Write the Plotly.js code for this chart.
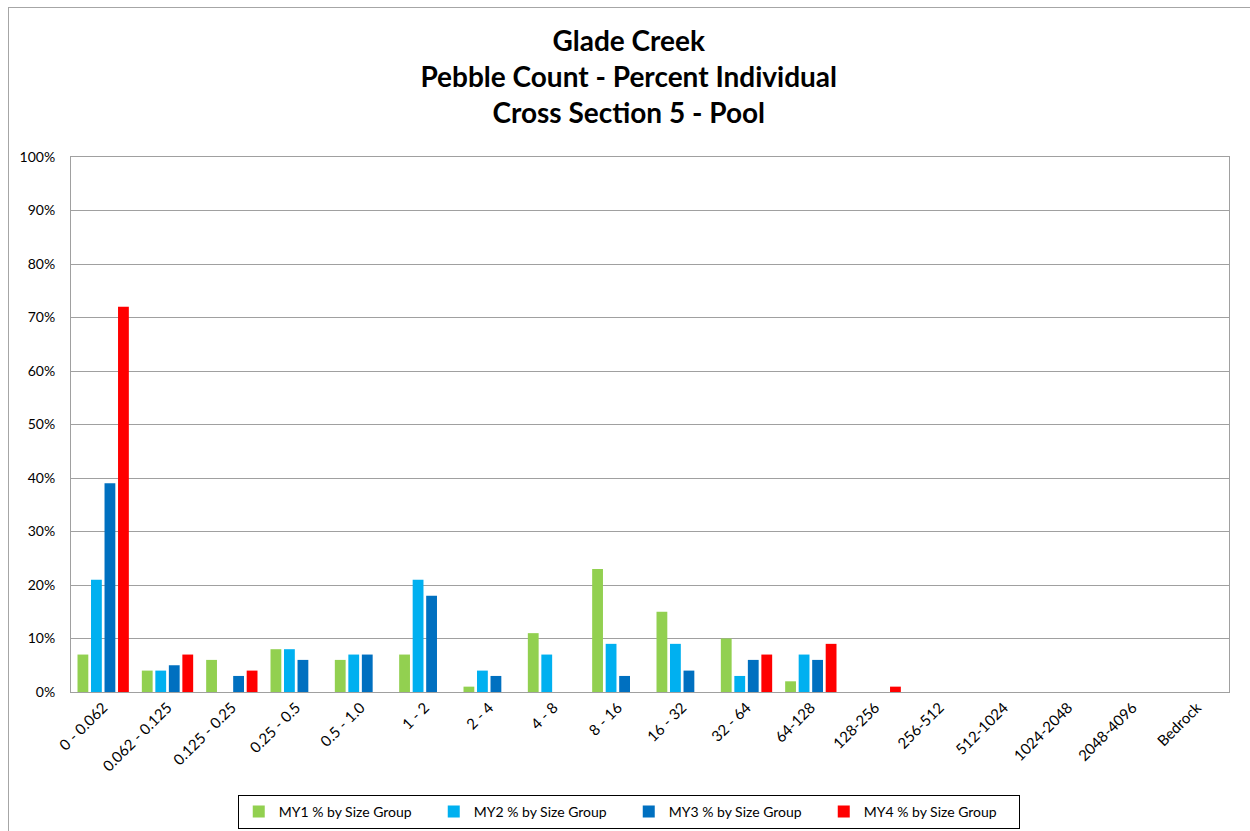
<!DOCTYPE html>
<html><head><meta charset="utf-8">
<script src="https://cdn.plot.ly/plotly-3.0.1.min.js"></script>
<style>html,body{margin:0;padding:0;background:#fff;}#frame{position:absolute;left:8px;top:7px;width:1250px;height:840px;border:1px solid #a6a6a6;box-sizing:border-box;}#chart{position:absolute;left:0;top:0;width:1250px;height:831px;}</style>
</head><body>
<div id="frame"></div>
<div id="chart"></div>
<script>
const categories = ["0 - 0.062","0.062 - 0.125","0.125 - 0.25","0.25 - 0.5","0.5 - 1.0","1 - 2","2 - 4","4 - 8","8 - 16","16 - 32","32 - 64","64-128","128-256","256-512","512-1024","1024-2048","2048-4096","Bedrock"];
const my1 = [7,4,6,8,6,7,1,11,23,15,10,2,0,0,0,0,0,0];
const my2 = [21,4,0,8,7,21,4,7,9,9,3,7,0,0,0,0,0,0];
const my3 = [39,5,3,6,7,18,3,0,3,4,6,6,0,0,0,0,0,0];
const my4 = [72,7,4,0,0,0,0,0,0,0,7,9,1,0,0,0,0,0];
const seriesNames = ["MY1 % by Size Group","MY2 % by Size Group","MY3 % by Size Group","MY4 % by Size Group"];
const colors = ["#92d050","#00b0f0","#0070c0","#ff0000"];
const vals = [my1,my2,my3,my4];
const traces = vals.map((v,i)=>({type:'bar',x:categories,y:v,name:seriesNames[i],marker:{color:colors[i]}}));
const font = "Lato, 'Open Sans', sans-serif";
const layout = {
  width:1250,height:831,
  margin:{l:71,r:21,t:157,b:139},
  paper_bgcolor:'rgba(0,0,0,0)',plot_bgcolor:'#fff',
  font:{family:font,color:'#000',size:14},
  title:{text:'<b>Glade Creek<br>Pebble Count - Percent Individual<br>Cross Section 5 - Pool</b>',x:0.503,xanchor:'center',yref:'container',y:0.939,yanchor:'middle',font:{size:28,family:font,color:'#000'}},
  barmode:'group',bargap:0.16,bargroupgap:0.2,
  xaxis:{type:'category',tickangle:-45,showline:true,linecolor:'#a0a0a0',mirror:true,ticks:'',tickfont:{size:15},showgrid:false,automargin:false},
  yaxis:{range:[0,100],dtick:10,ticksuffix:'%',showline:true,linecolor:'#a0a0a0',mirror:true,gridcolor:'#a0a0a0',gridwidth:1,tickfont:{size:14},ticks:'',ticklabelstandoff:12,zeroline:false,fixedrange:true,automargin:false},
  showlegend:true,
  legend:{orientation:'h',x:0.503,xanchor:'center',xref:'container',yref:'container',y:0.0433,yanchor:'top',bordercolor:'#000',borderwidth:1,font:{size:14},entrywidth:150,itemwidth:30,traceorder:'normal'}
};
Plotly.newPlot('chart',traces,layout,{displayModeBar:false,staticPlot:true});
</script>
</body></html>
